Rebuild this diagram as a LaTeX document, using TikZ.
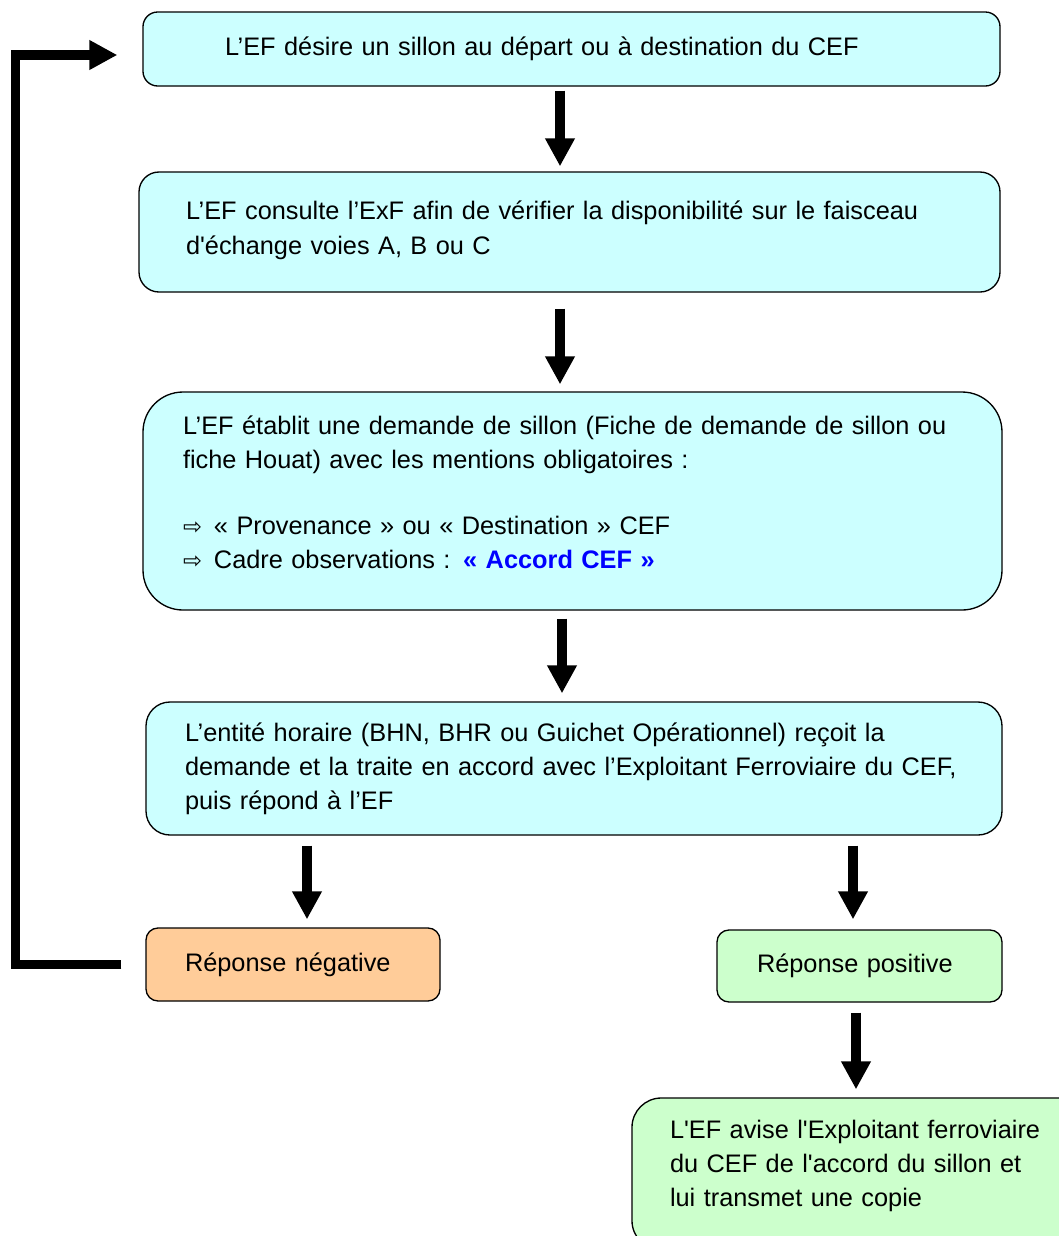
\documentclass[tikz,border=0pt]{standalone}
\usepackage{fontspec}
\setmainfont{Liberation Sans}
\newfontfamily\symfont{DejaVu Sans}
\usepackage{xcolor}
\usetikzlibrary{arrows.meta, positioning, calc}

\definecolor{boxcyan}{HTML}{CCFFFF}
\definecolor{boxorange}{HTML}{FFCC99}
\definecolor{boxgreen}{HTML}{CCFFCC}
\definecolor{accordblue}{HTML}{0000FF}

\newcommand{\puce}{{\symfont\fontsize{17}{17}\selectfont ⇨}\hspace{9pt}}

\begin{document}
\begin{tikzpicture}[
        x=0.75pt, y=-0.75pt,
        box/.style={rectangle, draw=black, line width=1pt, align=left, inner ysep=0pt,
            font=\fontsize{19}{25.5}\selectfont},
        block/.style={box, fill=boxcyan},
        negbox/.style={box, fill=boxorange},
        posbox/.style={box, fill=boxgreen},
        arrow/.style={-{Triangle[length=21pt, width=21pt]}, line width=7.5pt, draw=black},
    ]
        \useasboundingbox (0,0) rectangle (1058,1236);

        % Main steps
        \node[block, rounded corners=11pt, text width=519.75pt, inner xsep=61.5pt, minimum height=55.5pt]
            (demande) at (571.5,49) {L’EF désire un sillon au départ ou à destination du CEF};
        \node[block, rounded corners=15pt, text width=575.25pt, inner xsep=35.25pt, minimum height=90pt]
            (consulte) at (569.5,232) {L’EF consulte l’ExF afin de vérifier la disponibilité sur le faisceau\\
            d\textquotesingle échange voies A, B ou C\\[-19pt]\mbox{}};
        \node[block, rounded corners=30pt, text width=584.25pt, inner xsep=30pt, minimum height=163.5pt]
            (etablit) at (572.5,501) {L’EF établit une demande de sillon (Fiche de demande de sillon ou\\
            fiche Houat) avec les mentions obligatoires :\\[24pt]
            \puce « Provenance » ou « Destination » CEF\\
            \puce Cadre observations : \textcolor{accordblue}{\bfseries « Accord CEF »}\\[-12pt]\mbox{}};
        \node[block, rounded corners=18pt, text width=583.5pt, inner xsep=29.25pt, minimum height=99.75pt]
            (entite) at (574,768.5) {L’entité horaire (BHN, BHR ou Guichet Opérationnel) reçoit la\\
            demande et la traite en accord avec l’Exploitant Ferroviaire du CEF,\\
            puis répond à l’EF};

        % Answers
        \node[negbox, rounded corners=9pt, text width=162pt, inner xsep=29.25pt, minimum height=54.75pt]
            (negative) at (293,964.5) {Réponse négative};
        \node[posbox, rounded corners=9pt, text width=153.75pt, inner xsep=30pt, minimum height=54pt]
            (positive) at (859.5,966) {Réponse positive};
        \node[posbox, rounded corners=22pt, text width=288pt, inner xsep=28.5pt, minimum height=114pt]
            (avise) at (862,1174) {L\textquotesingle EF avise l\textquotesingle Exploitant ferroviaire\\
            du CEF de l\textquotesingle accord du sillon et\\
            lui transmet une copie\\[-10pt]\mbox{}};

        % Arrows
        \draw[arrow] ($(demande.south)+(-11.5,4)$) -- ($(consulte.north)+(-9.5,-5)$);
        \draw[arrow] ($(consulte.south)+(-9.5,16)$) -- ($(etablit.north)+(-12.5,-7)$);
        \draw[arrow] ($(etablit.south)+(-10.5,8)$) -- ($(entite.north)+(-12,-8)$);
        \draw[arrow] ($(negative.north |- entite.south)+(14,10)$) -- ($(negative.north)+(14,-8)$);
        \draw[arrow] ($(positive.north |- entite.south)+(-6.5,10)$) -- ($(positive.north)+(-6.5,-10)$);
        \draw[arrow] ($(positive.south)+(-3.5,10)$) -- ($(avise.north)+(-6,-8)$);

        % Back to the start
        \draw[arrow, line width=7pt, shorten <=18pt, shorten >=18.75pt]
            (negative.west) -- ++(-130,0) |- ($(demande.west)+(0,6)$);
    \end{tikzpicture}
\end{document}
